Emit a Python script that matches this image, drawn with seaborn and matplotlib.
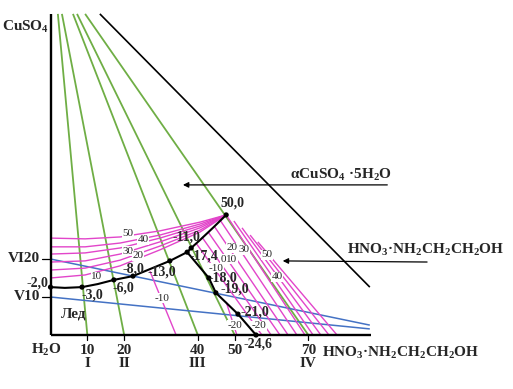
import matplotlib
matplotlib.use('Agg')
import matplotlib.pyplot as plt
import seaborn as sns

sns.set_theme(style='white')
plt.rcParams['font.family'] = ['Liberation Serif', 'DejaVu Serif']
plt.rcParams['mathtext.fontset'] = 'custom'
plt.rcParams['mathtext.rm'] = 'Liberation Serif:bold'
plt.rcParams['mathtext.it'] = 'Liberation Serif:bold'
plt.rcParams['mathtext.bf'] = 'Liberation Serif:bold'

GREEN = '#6FAE45'
PINK = '#E245CA'
BLUE = '#4472C4'

# ---- данные (мас.%: x = HNO3·MEA, y = CuSO4) ----
Y_TOP = 84.5
X_RIGHT = 86.7

# политермические разрезы I-IV (зелёные)
sections = [10, 20, 40, 50, 70]
section_names = ['I', 'II', 'III', '', 'IV']
section_top_x = [2.0, 3.1, 6.1, 7.2, 9.4]

# разрезы V, VI (синие)
blue_names = ['VI', 'V']
blue_start_y = [20, 10]
blue_end_y = [2.6, 1.6]

# граница CuSO4·5H2O / HNO3·MEA (чёрная диагональ)
diag_x = [13.4, 86.7]
diag_y = [84.5, 12.6]

# кривая льда
ice_x = [0, 3.9, 8.55, 12.8, 17.2, 22.4, 32.4, 37.1]
ice_y = [12.6, 12.4, 12.6, 13.4, 14.5, 15.5, 19.5, 21.8]

# кривая CuSO4·5H2O / HNO3·MEA
up_x = [37.1, 38.2, 40.6, 44.1, 47.7]
up_y = [21.8, 22.9, 25.0, 28.2, 31.6]

# эвтектическая линия лёд / HNO3·MEA
eut_x = [37.1, 43.0, 44.9, 50.9, 55.8]
eut_y = [21.8, 15.0, 11.1, 5.5, 0.0]

# узловые точки
pt_x = [0, 8.55, 17.2, 22.4, 32.4, 37.1, 38.2, 47.7, 43.0, 44.9, 50.9, 55.8]
pt_y = [12.6, 12.6, 14.5, 15.5, 19.5, 21.8, 22.9, 31.6, 15.0, 11.1, 5.5, 0.0]
pt_labels = ['-2,0', '-3,0', '-6,0', '-8,0', '-13,0', '-17,4', '-11,0', '50,0',
             '-18,0', '-19,0', '-21,0', '-24,6']
lab_x = [-0.7, 11.3, 19.7, 22.4, 30.3, 41.6, 36.8, 49.3, 46.8, 50.1, 55.5, 56.3]
lab_y = [13.7, 10.5, 12.4, 17.4, 16.6, 20.8, 25.8, 34.7, 15.0, 12.1, 6.1, -2.4]
lab_ha = ['right', 'center', 'center', 'center', 'center', 'center', 'center',
          'center', 'center', 'center', 'center', 'center']

# изотермы поля CuSO4·5H2O (розовый веер слева)
fan_x = [0, 9.4, 18.9, 29.7, 40.6, 47.7]
fan_y = [
    [25.5, 25.3, 25.8, 27.4, 29.7, 31.6],
    [23.2, 23.2, 24.2, 26.3, 29.2, 31.6],
    [21.3, 21.6, 22.9, 25.5, 28.7, 31.6],
    [19.2, 19.5, 21.3, 24.5, 28.2, 31.6],
    [17.1, 17.6, 19.7, 23.4, 27.6, 31.6],
    [15.0, 15.8, 18.2, 22.4, 27.1, 31.6],
]
fan_lab = ['50', '40', '30', '20', '10']
fan_lab_x = [21.0, 25.1, 21.0, 23.8, 12.6]
fan_lab_y = [26.6, 25.0, 22.1, 20.8, 15.3]

# изотермы поля HNO3·MEA (розовые справа)
rf_x0 = [39.5, 41.1, 42.8, 44.4, 46.0, 47.7, 49.8, 52.0, 54.2, 56.3]
rf_y0 = [24.2, 25.8, 27.1, 28.7, 30.3, 31.6, 30.0, 28.2, 26.3, 24.5]
rf_x1 = [57.4, 59.9, 62.3, 64.5, 66.9, 69.1, 71.3, 73.4, 75.6, 77.8]
rf_lab = ['-10', '0', '10', '20', '30', '50', '40', '-20']
rf_lab_x = [44.9, 46.9, 49.2, 49.3, 52.5, 58.8, 61.5, 56.6]
rf_lab_y = [17.6, 19.9, 20.0, 22.9, 22.4, 21.1, 15.3, 2.4]

# изотермы поля льда
ice_iso_x = [[27.0, 34.1], [47.7, 50.6]]
ice_iso_y = [[16.8, 0.0], [8.7, 0.0]]
ice_iso_lab = ['-10', '-20']
ice_iso_lab_x = [30.3, 50.1]
ice_iso_lab_y = [9.7, 2.6]

# ---- рисунок ----
fig = plt.figure(figsize=(5.13, 3.89), dpi=100)
ax = fig.add_axes([0, 0, 1, 1])
ax.set_xlim(-50.5 / 3.683, (513 - 50.5) / 3.683)
ax.set_ylim(-(389 - 335) / 3.8, 335 / 3.8)
ax.axis('off')


def seg(xs, ys, color, lw, z=2):
    sns.lineplot(x=xs, y=ys, ax=ax, color=color, lw=lw, sort=False,
                 estimator=None, zorder=z, solid_capstyle='butt')


# зелёные разрезы
for p, tx in zip(sections, section_top_x):
    seg([tx, p], [Y_TOP, 0], GREEN, 1.3)

# синие разрезы
for y0, y1 in zip(blue_start_y, blue_end_y):
    seg([0, X_RIGHT], [y0, y1], BLUE, 1.1)

# розовые изотермы
for fy in fan_y:
    seg(fan_x, fy, PINK, 1.0)
for x0, y0, x1 in zip(rf_x0, rf_y0, rf_x1):
    seg([x0, x1], [y0, 0], PINK, 1.0)
for xs, ys in zip(ice_iso_x, ice_iso_y):
    seg(xs, ys, PINK, 1.0)

# чёрные линии
seg(diag_x, diag_y, 'black', 1.2, 4)
seg(ice_x, ice_y, 'black', 1.5, 4)
seg(up_x, up_y, 'black', 1.5, 4)
seg(eut_x, eut_y, 'black', 1.5, 4)
seg([0, 0], [0, Y_TOP], 'black', 1.7, 5)
seg([0, 87.0], [0, 0], 'black', 1.7, 5)
sns.scatterplot(x=pt_x, y=pt_y, ax=ax, color='black', s=14, edgecolor='none',
                zorder=6)

# метки осей
for p, nm in zip(sections, section_names):
    ax.plot([p, p], [0, -1.3], color='black', lw=0.9, zorder=5)
    ax.text(p, -4.0, str(p), ha='center', va='center', fontsize=11,
            fontweight='bold')
    if nm:
        ax.text(p, -7.6, nm, ha='center', va='center', fontsize=11,
                fontweight='bold')
for nm, y0 in zip(blue_names, blue_start_y):
    ax.plot([-2.3, 0], [y0, y0], color='black', lw=0.9)
    ax.text(-2.85, y0, nm + str(y0), ha='right', va='center', fontsize=11,
            fontweight='bold')

ax.text(-6.9, 81.1, r'$\mathrm{CuSO_4}$', ha='center', va='center', fontsize=11)
ax.text(-1.2, -3.9, r'$\mathrm{H_2O}$', ha='center', va='center', fontsize=11)
ax.text(73.7, -4.7, r'$\mathrm{HNO_3·NH_2CH_2CH_2OH}$', ha='left',
        va='center', fontsize=11)
ax.text(6.4, 5.5, 'Лед', ha='center', va='center', fontsize=11,
        fontweight='bold')

# подписи точек
for t, x, y, ha in zip(pt_labels, lab_x, lab_y, lab_ha):
    ax.text(x, y, t, ha=ha, va='center', fontsize=10, fontweight='bold',
            zorder=7)

# подписи изотерм
bb = dict(facecolor='white', edgecolor='none', pad=0.3)
for t, x, y in zip(fan_lab + rf_lab + ice_iso_lab,
                   fan_lab_x + rf_lab_x + ice_iso_lab_x,
                   fan_lab_y + rf_lab_y + ice_iso_lab_y):
    ax.text(x, y, t, ha='center', va='center', fontsize=8, bbox=bb, zorder=3)

# поля кристаллизации со стрелками
arrow = dict(arrowstyle='-|>', color='black', lw=0.9, mutation_scale=8)
ax.annotate('', xy=(35.2, 39.5), xytext=(92.2, 39.5), arrowprops=arrow)
ax.text(65.0, 40.0, r'$\mathrm{\alpha CuSO_4\ ·5H_2O}$', ha='left',
        va='bottom', fontsize=11)
ax.annotate('', xy=(62.3, 19.5), xytext=(103.0, 19.2), arrowprops=arrow)
ax.text(80.5, 20.3, r'$\mathrm{HNO_3·NH_2CH_2CH_2OH}$', ha='left',
        va='bottom', fontsize=11)

fig.savefig('out.png', dpi=100)
